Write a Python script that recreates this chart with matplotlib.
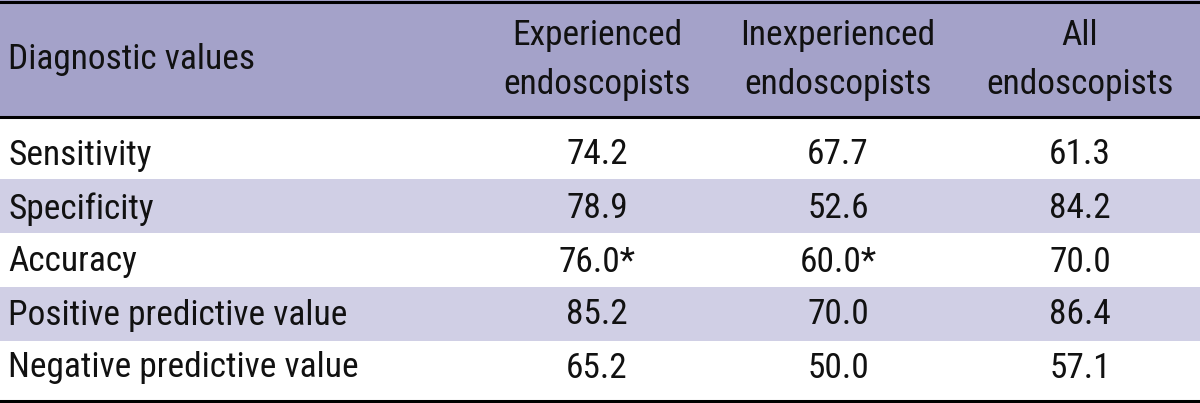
import matplotlib.pyplot as plt
from matplotlib import font_manager

# Datos de la tabla
encabezados = ["Diagnostic values", "Experienced\nendoscopists",
               "Inexperienced\nendoscopists", "All\nendoscopists"]
filas = ["Sensitivity", "Specificity", "Accuracy",
         "Positive predictive value", "Negative predictive value"]
experimentados = ["74.2", "78.9", "76.0*", "85.2", "65.2"]
inexpertos = ["67.7", "52.6", "60.0*", "70.0", "50.0"]
todos = ["61.3", "84.2", "70.0", "86.4", "57.1"]

# fuente condensada, la primera que exista
nombres = {f.name for f in font_manager.fontManager.ttflist}
fuente = "DejaVu Sans"
for candidata in ["Roboto Condensed", "Liberation Sans Narrow", "Archivo Narrow",
                  "Asap Condensed", "Barlow Condensed"]:
    if candidata in nombres:
        fuente = candidata
        break
plt.rcParams["font.family"] = [fuente, "DejaVu Sans"]

fig = plt.figure(figsize=(12, 4.03), dpi=100)
ax = fig.add_axes([0, 0, 1, 1])
ax.set_xlim(0, 1200)
ax.set_ylim(403, 0)
ax.axis("off")

color_enc = "#a4a2c9"
color_banda = "#d0cfe5"

# bordes de filas (pixeles)
bordes = [118, 179, 233, 287, 341, 400]
centros = [155, 209, 262, 315, 368]
col_x = [597, 838, 1080]

ax.axhspan(0, 117, color=color_enc, lw=0)
for i in range(len(filas)):
    if i % 2 == 1:
        ax.axhspan(bordes[i], bordes[i + 1], color=color_banda, lw=0)

ax.axhline(1.5, color="black", lw=2.2)
ax.axhline(117, color="black", lw=2.2)
ax.axhline(400.5, color="black", lw=2.2)

tam = 25.5
ax.text(8, 60, encabezados[0], fontsize=tam, va="center", ha="left", color="#111111")
for x, enc in zip(col_x, encabezados[1:]):
    ax.text(x, 60, enc, fontsize=tam, va="center", ha="center",
            linespacing=1.6, color="#111111")

for i, nombre in enumerate(filas):
    y = centros[i]
    ax.text(8, y, nombre, fontsize=tam, va="center", ha="left", color="#111111")
    for x, valores in zip(col_x, [experimentados, inexpertos, todos]):
        ax.text(x, y, valores[i], fontsize=tam, va="center", ha="center", color="#111111")

fig.savefig("out.png", dpi=100)
